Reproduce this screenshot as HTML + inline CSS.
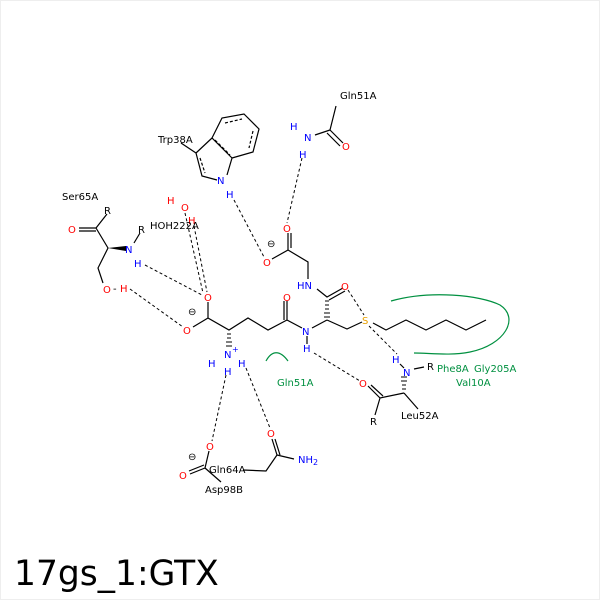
<!DOCTYPE html>
<html><head><meta charset="utf-8"><style>
html,body{margin:0;padding:0;background:#fff}
svg{display:block}
text{font-family:"DejaVu Sans","Liberation Sans",sans-serif;font-size:10px}
.b{fill:#0000ff}.r{fill:#ff0000}.k{fill:#000}.g{fill:#009040}.s{fill:#e8a000}
</style></head><body>
<svg width="600" height="600" viewBox="0 0 600 600" xmlns="http://www.w3.org/2000/svg">
<rect x="0.5" y="0.5" width="599" height="599" fill="#fff" stroke="#eee"/>
<g stroke="#000" stroke-width="1.2" fill="none">
<path d="M336,106 L330,130 L315,135 M330,130 L343,143 M327,133 L340,146"/>
<path d="M181,143 L196,153 L202,176 L217,180 M196,153 L212,138 L232,158 L227,175 M212,138 L222,118 L244,114 L259,129 L253,152 L232,158"/>
<path d="M200,158 L205,173 M225,123 L242,119 M253,131 L249,148 M215,140 L230,155" stroke-dasharray="3,2"/>
<path d="M288,233 L288,250 L272,259 M288,250 L308,262 L308,279 M317,289 L327,297 L343,288 M329,300 L345,291 M327,320 L347,329 L362,322 M373,323 L386,330 L406,320 L426,330 L446,320 L466,330 L486,320 M327,320 L312,328 M291,233 L291,248"/>
<path d="M302,328 L287,320 L287,301 M284,320 L284,301 M287,320 L268,330 L248,318 L229,330 L208,318 L208,302 M208,318 L193,327 M307,336 L307,344"/>
<path d="M107,214 L96,228 L79,228 M96,231 L79,231 M96,228 L108,248 L98,268 L103,283 M134,243 L140,233"/>
<path d="M205,468 L209,451 M205,468 L190,474 M204,465 L189,471 M205,468 L221,482 M243,470 L266,471 L277,455 L272,439 M280,455 L275,439 M277,455 L294,459"/>
<path d="M404,393 L380,398 L368,386 M383,396 L371,385 M380,398 L375,415 M404,393 L418,409 M414,369 L424,367 M400,364 L404,368"/>
</g>
<polygon points="108,248 126,246 126,251" fill="#000"/>
<g stroke="#000" stroke-width="1">
<path d="M325,301 L329,301 M325,305 L329,305 M325,309 L329,309 M324,313 L330,313 M324,317 L330,317"/>
<path d="M227,334 L231,334 M227,338 L231,338 M226,342 L232,342 M226,346 L232,346"/>
<path d="M402,389 L406,389 M402,385 L406,385 M401,381 L407,381 M401,377 L407,377"/>
</g>
<g stroke="#000" stroke-width="1" stroke-dasharray="3,2.5" fill="none">
<path d="M130,289 L183,327 M145,265 L202,295 M185,213 L203,293 M194,226 L207,292 M234,200 L264,257 M302,158 L287,223 M314,353 L360,381 M369,326 L397,354 M348,290 L364,315 M226,375 L212,441 M246,368 L270,428"/>
</g>
<g stroke="#009040" stroke-width="1.2" fill="none">
<path d="M391,301 C430,290 480,295 500,305 C520,318 505,345 470,352 C450,356 430,353 414,353"/>
<path d="M266,361 C272,350 280,350 288,361"/>
</g>
<text x="340" y="99" class="k">Gln51A</text>
<text x="290" y="130" class="b">H</text><text x="304" y="141" class="b">N</text><text x="299" y="158" class="b">H</text>
<text x="342" y="150" class="r">O</text>
<text x="158" y="143" class="k">Trp38A</text>
<text x="217" y="184" class="b">N</text><text x="226" y="198" class="b">H</text>
<text x="283" y="232" class="r">O</text><text x="263" y="266" class="r">O</text><text x="267" y="247" class="k">⊖</text>
<text x="297" y="289" class="b">HN</text>
<text x="341" y="290" class="r">O</text>
<text x="362" y="324" class="s">S</text>
<text x="302" y="335" class="b">N</text><text x="303" y="352" class="b">H</text>
<text x="283" y="301" class="r">O</text>
<text x="204" y="301" class="r">O</text><text x="183" y="334" class="r">O</text><text x="188" y="315" class="k">⊖</text>
<text x="224" y="358" class="b">N</text><text x="232" y="352" style="font-size:8px" class="b">+</text>
<text x="208" y="367" class="b">H</text><text x="224" y="375" class="b">H</text><text x="238" y="367" class="b">H</text>
<text x="167" y="204" class="r">H</text><text x="181" y="211" class="r">O</text><text x="188" y="224" class="r">H</text>
<text x="150" y="229" class="k">HOH222A</text>
<text x="62" y="200" class="k">Ser65A</text>
<text x="104" y="214" class="k">R</text>
<text x="68" y="233" class="r">O</text>
<text x="125" y="253" class="b">N</text><text x="138" y="233" class="k">R</text>
<text x="134" y="267" class="b">H</text>
<text x="103" y="293" class="r">O</text><text x="113" y="292" class="k">-</text><text x="120" y="292" class="r">H</text>
<text x="206" y="450" class="r">O</text><text x="179" y="479" class="r">O</text><text x="188" y="460" class="k">⊖</text>
<text x="209" y="473" class="k">Gln64A</text><text x="205" y="493" class="k">Asp98B</text>
<text x="267" y="437" class="r">O</text>
<text x="298" y="463" class="b">NH<tspan style="font-size:8px" dy="2">2</tspan></text>
<text x="277" y="386" class="g">Gln51A</text>
<text x="392" y="363" class="b">H</text><text x="403" y="376" class="b">N</text><text x="427" y="370" class="k">R</text>
<text x="359" y="387" class="r">O</text><text x="370" y="425" class="k">R</text>
<text x="401" y="419" class="k">Leu52A</text>
<text x="437" y="372" class="g">Phe8A</text><text x="474" y="372" class="g">Gly205A</text><text x="456" y="386" class="g">Val10A</text>
<text x="14" y="585" style="font-size:34.5px" class="k">17gs_1:GTX</text>
</svg>
</body></html>
